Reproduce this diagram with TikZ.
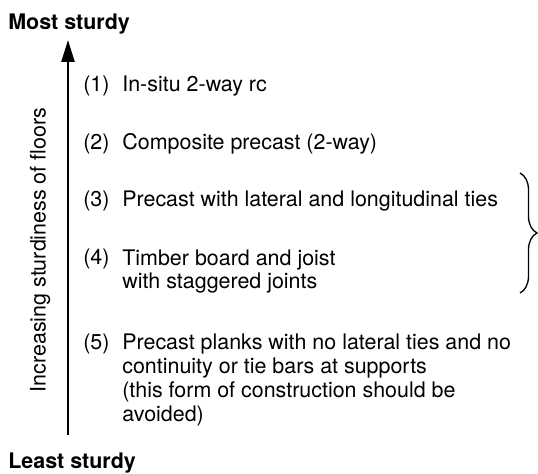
\documentclass[tikz,border=0pt]{standalone}
\usepackage{fontspec}
\setmainfont{TeX Gyre Heros}
\usepackage{tikz}
\usetikzlibrary{
  arrows.meta,
  decorations.pathreplacing
}
\tikzset{>=Triangle}
\tikzset{
  itemtext/.style={anchor=base west,inner sep=0pt,align=left,
    font=\fontsize{12.2}{13.6}\selectfont},
  endtext/.style={anchor=base west,inner sep=0pt,
    font=\fontsize{12.2}{13.6}\selectfont\bfseries}
}

\begin{document}
\begin{tikzpicture}[thin]
  \useasboundingbox (0,0) rectangle (10.76,-9.48);
  % ends of the scale
  \node[endtext] (most) at (0.16,-0.60) {Most sturdy};
  \node[endtext] (least) at (0.16,-9.38) {Least sturdy};
  \coordinate (B) at (1.36,-8.70);
  \coordinate (T) at (1.36,-0.80);
  \draw[line width=1.5pt,-{Triangle[length=0.44cm,width=0.26cm]}] (B)--(T);
  \node[rotate=90,inner sep=0pt,font=\fontsize{12.2}{13.6}\selectfont] (axis) at (0.80,-5.00) {Increasing sturdiness of floors};
  % floor types (base of a multi-line node is its last line)
  \node[itemtext] (n1) at (1.66,-1.84) {(1)};
  \node[itemtext] (t1) at (2.44,-1.84) {In-situ 2-way rc};
  \node[itemtext] (n2) at (1.66,-3.00) {(2)};
  \node[itemtext] (t2) at (2.44,-3.00) {Composite precast (2-way)};
  \node[itemtext] (n3) at (1.66,-4.14) {(3)};
  \node[itemtext] (t3) at (2.44,-4.14) {Precast with lateral and longitudinal ties};
  \node[itemtext] (n4) at (1.66,-5.30) {(4)};
  \node[itemtext] (t4) at (2.44,-5.78) {Timber board and joist\\with staggered joints};
  \node[itemtext] (n5) at (1.66,-7.00) {(5)};
  \node[itemtext] (t5) at (2.44,-8.434) {Precast planks with no lateral ties and no\\continuity or tie bars at supports\\(this form of construction should be\\avoided)};
  % brace for (3) and (4)
  \coordinate (bt) at (10.40,-3.46);
  \coordinate (bb) at (10.40,-5.86);
  \draw[line width=0.75pt,decorate,decoration={brace,amplitude=0.34cm}] (bt)--(bb);
\end{tikzpicture}
\end{document}
